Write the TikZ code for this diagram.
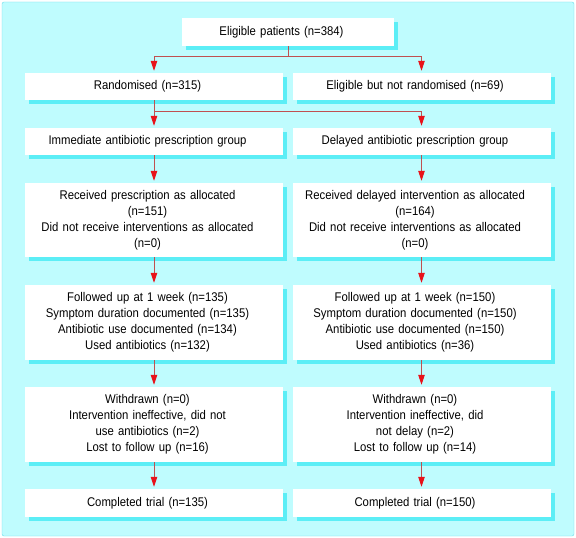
\documentclass[tikz,border=0pt]{standalone}
\usepackage{fontspec}
\setmainfont{Liberation Sans}[FakeStretch=0.9]
\usetikzlibrary{shapes,arrows.meta,shadows}
\definecolor{bgcyan}{HTML}{BFFCFE}
\definecolor{shcyan}{HTML}{5CEEF6}
\definecolor{frcyan}{HTML}{6ADCEA}
\definecolor{lnred}{HTML}{C05050}
\definecolor{tipred}{HTML}{E8121A}
\tikzstyle{bx}=[rectangle,fill=white,inner sep=0pt,minimum height=27bp,text width=258bp,align=center,execute at begin node={\advance\rightskip by 13bp},drop shadow={shadow xshift=4bp,shadow yshift=-4bp,fill=shcyan,opacity=1}]
\tikzstyle{cn}=[draw=lnred,line width=1bp,-{Triangle[length=10bp,width=6.5bp,color=tipred]},shorten >=2bp]

\begin{document}
\begin{tikzpicture}[x=1bp,y=-1bp,font=\fontsize{12.6bp}{16bp}\selectfont]
\useasboundingbox (0,0) rectangle (576,538);
\filldraw[fill=bgcyan,draw=frcyan,rounded corners=2bp] (2,2) rectangle (574,536);
\node[bx,text width=212bp,minimum height=28bp] (elig) at (288,32) {Eligible patients (n=384)};
\node[bx] (rand) at (154,86.5) {Randomised (n=315)}; \node[bx] (notrand) at (421.5,86.5) {Eligible but not randomised (n=69)};
\node[bx] (imm) at (154,141.5) {Immediate antibiotic prescription group}; \node[bx] (del) at (421.5,141.5) {Delayed antibiotic prescription group};
\node[bx,minimum height=74bp] (recv) at (154,220) {Received prescription as allocated\\(n=151)\\Did not receive interventions as allocated\\(n=0)};
\node[bx,minimum height=74bp] (recvd) at (421.5,220) {Received delayed intervention as allocated\\(n=164)\\Did not receive interventions as allocated\\(n=0)};
\node[bx,minimum height=75bp] (follow) at (154,322.5) {Followed up at 1 week (n=135)\\Symptom duration documented (n=135)\\Antibiotic use documented (n=134)\\Used antibiotics (n=132)};
\node[bx,minimum height=75bp] (followd) at (421.5,322.5) {Followed up at 1 week (n=150)\\Symptom duration documented (n=150)\\Antibiotic use documented (n=150)\\Used antibiotics (n=36)};
\node[bx,minimum height=75bp] (withd) at (154,424.5) {Withdrawn (n=0)\\Intervention ineffective, did not\\use antibiotics (n=2)\\Lost to follow up (n=16)};
\node[bx,minimum height=75bp] (withdd) at (421.5,424.5) {Withdrawn (n=0)\\Intervention ineffective, did\\not delay (n=2)\\Lost to follow up (n=14)};
\node[bx,minimum height=28bp] (compl) at (154,503) {Completed trial (n=135)}; \node[bx,minimum height=28bp] (compld) at (421.5,503) {Completed trial (n=150)};
% arrows
\draw[cn] (elig.south) -- ++(0,10) -| (rand.north); \draw[cn] (elig.south) -- ++(0,10) -| (notrand.north);
\draw[cn] (rand.south) -- (imm.north); \draw[cn] (rand.south) ++(0,11) -| (del.north);
\draw[cn] (imm.south) -- (recv.north); \draw[cn] (recv.south) -- (follow.north); \draw[cn] (follow.south) -- (withd.north); \draw[cn] (withd.south) -- (compl.north);
\draw[cn] (del.south) -- (recvd.north); \draw[cn] (recvd.south) -- (followd.north); \draw[cn] (followd.south) -- (withdd.north); \draw[cn] (withdd.south) -- (compld.north);
\end{tikzpicture}
\end{document}
